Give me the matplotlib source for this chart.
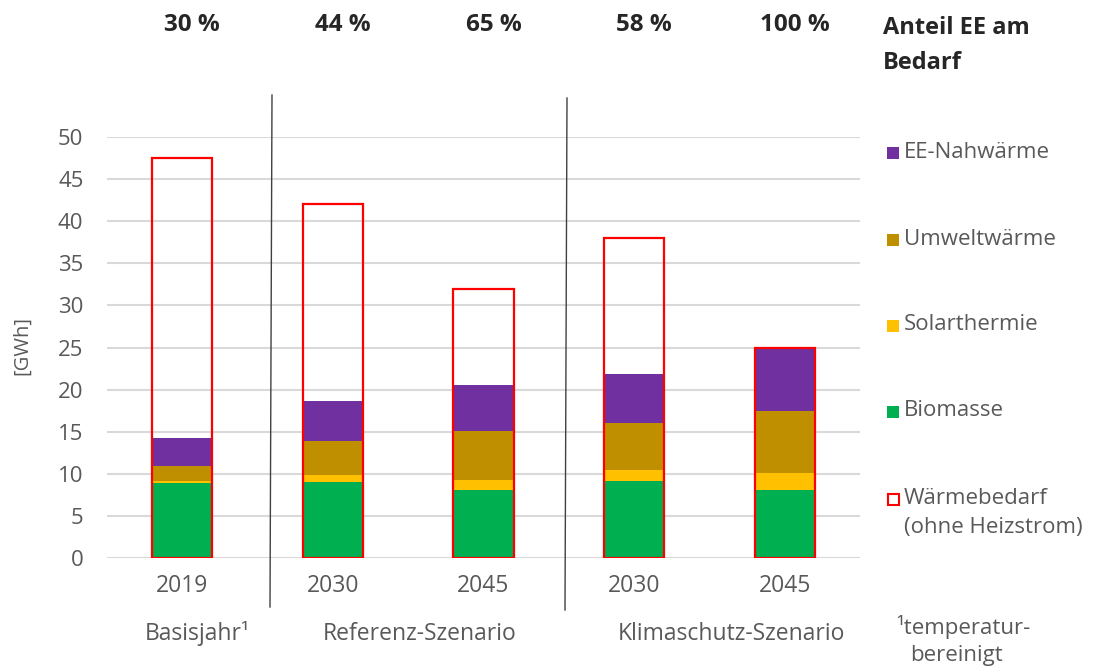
import matplotlib
matplotlib.use("Agg")
import matplotlib.pyplot as plt
from matplotlib import font_manager
from matplotlib.patches import Rectangle
from matplotlib.lines import Line2D
import numpy as np

# ---- data (GWh) ----
years = ["2019", "2030", "2045", "2030", "2045"]
groups = ["Basisjahr¹", "Referenz-Szenario", "Klimaschutz-Szenario"]
biomasse = [8.95, 9.05, 8.05, 9.2, 8.1]
solarthermie = [0.25, 0.85, 1.25, 1.3, 2.0]
umweltwaerme = [1.7, 4.0, 5.8, 5.5, 7.4]
ee_nahwaerme = [3.3, 4.7, 5.5, 5.9, 7.5]
waermebedarf = [47.5, 42.1, 31.9, 38.0, 25.0]
y_ticks = [0, 5, 10, 15, 20, 25, 30, 35, 40, 45, 50]

series_names = ["Biomasse", "Solarthermie", "Umweltwärme", "EE-Nahwärme"]
series_values = [biomasse, solarthermie, umweltwaerme, ee_nahwaerme]
series_colors = ["#00B050", "#FFC000", "#BF8F00", "#7030A0"]
red = "#FF0000"
text_grey = "#595959"
dark = "#262626"

available = {f.name for f in font_manager.fontManager.ttflist}
base_font = "Open Sans" if "Open Sans" in available else "DejaVu Sans"
plt.rcParams["font.family"] = base_font

W, H = 1096, 669
fig = plt.figure(figsize=(W / 100, H / 100), dpi=100)
ax = fig.add_axes([107 / W, 1 - 558 / H, (860 - 107) / W, (558 - 137) / H])

x = np.arange(len(years))
width = 0.40
bottom = np.zeros(len(years))
for name, vals, col in zip(series_names, series_values, series_colors):
    ax.bar(x, vals, width=width * 0.97, bottom=bottom, color=col, zorder=2,
           label=name)
    bottom += np.array(vals)

ax.bar(x, waermebedarf, width=width, facecolor="none", edgecolor=red,
       linewidth=1.6, zorder=3)

ax.set_xlim(-0.5, len(years) - 0.5)
ax.set_ylim(0, 50)
ax.set_yticks(y_ticks)
ax.yaxis.grid(True, color="#D9D9D9", linewidth=1.5, zorder=0)
ax.set_axisbelow(True)
for s in ax.spines.values():
    s.set_visible(False)
ax.tick_params(axis="y", length=0, pad=17, labelsize=16, labelcolor=text_grey)
ax.set_xticks([])
ax.yaxis.set_ticklabels([str(t) for t in y_ticks])

# year labels below each bar
for xi, yr in zip(x, years):
    ax.annotate(yr, xy=(xi, 0), xycoords="data", xytext=(0, -20),
                textcoords="offset points", ha="center", va="center",
                fontsize=16.5, color=text_grey)

# scenario group labels
group_x = [197, 420, 731]
for gx, g in zip(group_x, groups):
    fig.text(gx / W, 1 - 634 / H, g, ha="center", va="center", fontsize=16.5,
             color=text_grey)

# separators between scenario groups
for (x0, y0, x1, y1) in [(272, 95, 270, 607), (567, 98, 565, 610)]:
    fig.add_artist(Line2D([x0 / W, x1 / W], [1 - y0 / H, 1 - y1 / H],
                          transform=fig.transFigure, color="#404040",
                          linewidth=1.0))

# share of renewables in heat demand
ee_total = bottom
for xi, tot, dem in zip(x, ee_total, waermebedarf):
    share = round(tot / dem * 100)
    px = ax.transData.transform((xi, 0))[0]
    fig.text((px + 10) / W, 1 - 25 / H, f"{share} %", ha="center", va="center",
             fontsize=17.5, fontweight="bold", color=dark)

fig.text(883 / W, 1 - 28 / H, "Anteil EE am", ha="left", va="center",
         fontsize=17, fontweight="bold", color=dark)
fig.text(883 / W, 1 - 63 / H, "Bedarf", ha="left", va="center",
         fontsize=17, fontweight="bold", color=dark)

# legend
legend_rows = [
    ("EE-Nahwärme", "#7030A0", 152),
    ("Umweltwärme", "#BF8F00", 239),
    ("Solarthermie", "#FFC000", 325),
    ("Biomasse", "#00B050", 411),
]
sq = 12
for label, col, yc in legend_rows:
    fig.add_artist(Rectangle((887 / W, 1 - (yc + 1 + sq / 2) / H), sq / W, sq / H,
                             transform=fig.transFigure, facecolor=col,
                             edgecolor="none"))
    fig.text(904 / W, 1 - yc / H, label, ha="left", va="center",
             fontsize=16, color=text_grey)

fig.add_artist(Rectangle((888 / W, 1 - (499 + sq / 2) / H), (sq - 1) / W,
                         (sq - 1) / H, transform=fig.transFigure,
                         facecolor="white", edgecolor=red, linewidth=1.5))
fig.text(904 / W, 1 - 498 / H, "Wärmebedarf", ha="left", va="center",
         fontsize=16, color=text_grey)
fig.text(904 / W, 1 - 527 / H, "(ohne Heizstrom)", ha="left", va="center",
         fontsize=16, color=text_grey)

fig.text(896 / W, 1 - 627 / H, "¹temperatur-", ha="left", va="center",
         fontsize=16, color=text_grey)
fig.text(910 / W, 1 - 655 / H, "bereinigt", ha="left", va="center",
         fontsize=16, color=text_grey)

fig.text(22 / W, 1 - 345 / H, "[GWh]", rotation=90, ha="center", va="center",
         fontsize=14.5, color=text_grey)

fig.savefig("out.png", dpi=100, facecolor="white")
